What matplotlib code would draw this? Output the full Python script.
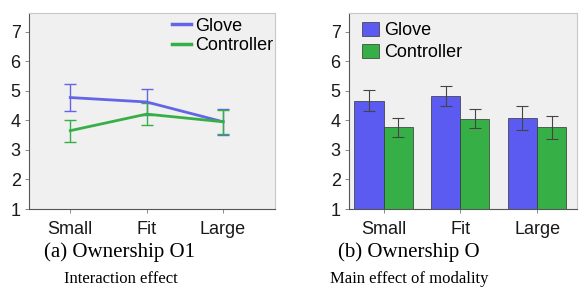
import matplotlib.pyplot as plt
import numpy as np
from matplotlib.lines import Line2D

categories = ["Small", "Fit", "Large"]
series = ["Glove", "Controller"]

# (a) Interaction effect: means and error half-widths
o1_glove = [4.77, 4.62, 3.95]
o1_glove_err = [0.45, 0.45, 0.44]
o1_ctrl = [3.65, 4.21, 3.95]
o1_ctrl_err = [0.37, 0.36, 0.41]

# (b) Main effect of modality
o_glove = [4.67, 4.82, 4.09]
o_glove_err = [0.36, 0.34, 0.41]
o_ctrl = [3.76, 4.05, 3.76]
o_ctrl_err = [0.33, 0.32, 0.39]

yticks = [1, 2, 3, 4, 5, 6, 7]

blue = "#5b5bf2"
green = "#36b046"
line_blue = "#6464e6"
bg = "#f0f0f0"

fig = plt.figure(figsize=(5.79, 2.97), dpi=100)
W, H = 579, 297

def style(ax):
    ax.set_facecolor(bg)
    for s in ["top", "right"]:
        ax.spines[s].set_color("#c8c8c8")
    for s in ["left", "bottom"]:
        ax.spines[s].set_color("#555555")
    for s in ax.spines.values():
        s.set_linewidth(0.8)
    ax.set_ylim(1, 7.63)
    ax.set_yticks(yticks)
    ax.tick_params(axis="both", length=3, width=0.6, color="#777777",
                   labelsize=13, pad=3, labelcolor="#1a1a1a")
    ax.tick_params(axis="x", pad=6)
    for lab in ax.get_yticklabels() + ax.get_xticklabels():
        lab.set_family("Liberation Sans")

# Left axes
ax1 = fig.add_axes([29 / W, 1 - 209 / H, (275 - 29) / W, (209 - 13) / H])
x = np.arange(len(categories))
ax1.errorbar(x, o1_glove, yerr=o1_glove_err, color=line_blue, lw=2,
             capsize=4, elinewidth=1, capthick=1, label=series[0])
ax1.errorbar(x, o1_ctrl, yerr=o1_ctrl_err, color=green, lw=2,
             capsize=4, elinewidth=1, capthick=1, label=series[1])
ax1.set_xlim(-0.54, 2.68)
ax1.set_xticks(x)
ax1.set_xticklabels(categories)
style(ax1)
handles = [Line2D([0], [0], color=line_blue, lw=2.5),
           Line2D([0], [0], color=green, lw=2.5)]
ax1.legend(handles, series, loc="upper right", frameon=False,
           prop={"family": "Liberation Sans", "size": 13},
           handlelength=1.1, handletextpad=0.2, labelspacing=0.15,
           borderaxespad=0.0, borderpad=0.1, bbox_to_anchor=(1.0, 0.985))

# Right axes
ax2 = fig.add_axes([349 / W, 1 - 209 / H, (577 - 349) / W, (209 - 13) / H])
bw = 0.38
ax2.bar(x - bw / 2, o_glove, bw, bottom=0, color=blue, edgecolor="#333333",
        linewidth=0.5, label=series[0])
ax2.bar(x + bw / 2, o_ctrl, bw, bottom=0, color=green, edgecolor="#333333",
        linewidth=0.5, label=series[1])
ax2.errorbar(x - bw / 2, o_glove, yerr=o_glove_err, fmt="none",
             ecolor="#444444", elinewidth=0.8, capsize=4, capthick=0.8)
ax2.errorbar(x + bw / 2, o_ctrl, yerr=o_ctrl_err, fmt="none",
             ecolor="#444444", elinewidth=0.8, capsize=4, capthick=0.8)
ax2.set_xlim(-0.45, 2.52)
ax2.set_xticks(x)
ax2.set_xticklabels(categories)
style(ax2)
ax2.legend(loc="upper left", frameon=False,
           prop={"family": "Liberation Sans", "size": 13},
           handlelength=0.95, handleheight=0.85, handletextpad=0.25,
           labelspacing=0.25, borderaxespad=0.3, borderpad=0.3,
           bbox_to_anchor=(0.01, 1.01))

# Captions
fig.text(119 / W, 1 - 252 / H, "(a) Ownership O1", ha="center", va="center",
         family="Liberation Serif", fontsize=15)
fig.text(121 / W, 1 - 279 / H, "Interaction effect", ha="center", va="center",
         family="Liberation Serif", fontsize=12)
fig.text(409 / W, 1 - 252 / H, "(b) Ownership O", ha="center", va="center",
         family="Liberation Serif", fontsize=15)
fig.text(409 / W, 1 - 279 / H, "Main effect of modality", ha="center",
         va="center", family="Liberation Serif", fontsize=12)

fig.savefig("out.png", dpi=100)
